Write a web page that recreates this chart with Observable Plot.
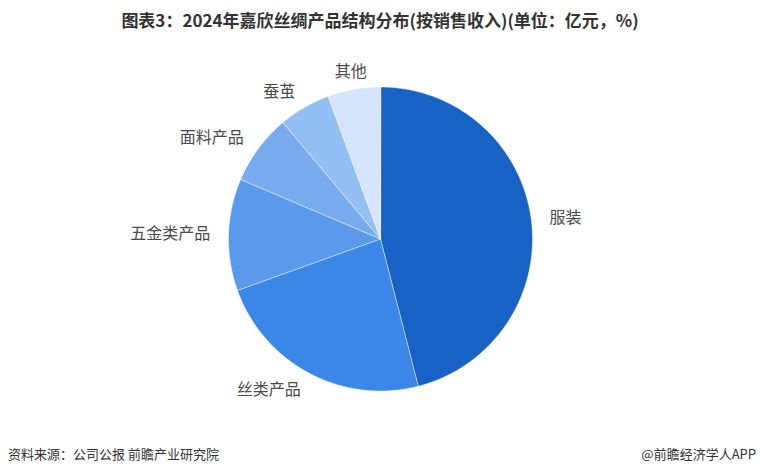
<!DOCTYPE html>
<html>
<head>
<meta charset="utf-8">
<script src="https://cdn.jsdelivr.net/npm/d3@7"></script>
<script src="https://cdn.jsdelivr.net/npm/@observablehq/plot@0.6"></script>
<style>
  html, body { margin: 0; padding: 0; background: #fff; }
  body { width: 760px; height: 475px; overflow: hidden; font-family: "Noto Sans CJK SC", "Noto Sans", sans-serif; }
  #title { height: 40px; line-height: 40px; text-align: center; font-weight: bold; font-size: 17px; color: #333; }
  #chart { height: 400px; }
  #foot { height: 35px; position: relative; font-size: 13px; color: #333; }
  #foot .l { position: absolute; left: 8px; top: 4px; }
  #foot .r { position: absolute; right: 4px; top: 4px; }
</style>
</head>
<body>
<div id="title">图表3：2024年嘉欣丝绸产品结构分布(按销售收入)(单位：亿元，%)</div>
<div id="chart"></div>
<div id="foot"><span class="l">资料来源：公司公报 前瞻产业研究院</span><span class="r">@前瞻经济学人APP</span></div>
<script>
const names = ["服装", "丝类产品", "五金类产品", "面料产品", "蚕茧", "其他"];
const values = [46.0, 23.5, 11.9, 7.5, 5.5, 5.6];
const colors = ["#1862c6", "#3a87e8", "#5b9aeb", "#78acef", "#94bff5", "#d5e5fb"];

const data = names.map((name, i) => ({name, value: values[i]}));
const arcs = d3.pie().sort(null).value(d => d.value)(data);

const poly = [];
for (const a of arcs) {
  const n = Math.max(2, Math.ceil((a.endAngle - a.startAngle) / (Math.PI / 360)));
  poly.push({name: a.data.name, x: 0, y: 0});
  for (let k = 0; k <= n; k++) {
    const t = a.startAngle + (a.endAngle - a.startAngle) * k / n;
    poly.push({name: a.data.name, x: Math.sin(t), y: Math.cos(t)});
  }
}

const labelR = 1.12;
const labels = arcs.map(a => {
  const m = (a.startAngle + a.endAngle) / 2;
  const s = Math.sin(m);
  return {
    name: a.data.name,
    x: labelR * s,
    y: labelR * Math.cos(m),
    side: Math.abs(s) < 0.3 ? "middle" : (s > 0 ? "start" : "end")
  };
});

const textOpts = {x: "x", y: "y", text: "name", fontSize: 16, fill: "#4a4a4a", fontFamily: "Noto Sans CJK SC"};

const chart = Plot.plot({
  width: 760,
  height: 400,
  margin: 0,
  style: {fontFamily: "Noto Sans CJK SC", background: "transparent"},
  x: {domain: [-1, 1], range: [228, 532], axis: null},
  y: {domain: [-1, 1], range: [350.5, 46.5], axis: null},
  color: {domain: names, range: colors},
  marks: [
    Plot.line(poly, {x: "x", y: "y", z: "name", fill: "name", stroke: "#ffffff", strokeWidth: 0.6, strokeOpacity: 0.8, curve: "linear-closed"}),
    Plot.text(labels.filter(d => d.side === "start"), {...textOpts, textAnchor: "start"}),
    Plot.text(labels.filter(d => d.side === "end"), {...textOpts, textAnchor: "end"}),
    Plot.text(labels.filter(d => d.side === "middle"), {...textOpts, textAnchor: "middle"})
  ]
});
document.getElementById("chart").appendChild(chart);
</script>
</body>
</html>
